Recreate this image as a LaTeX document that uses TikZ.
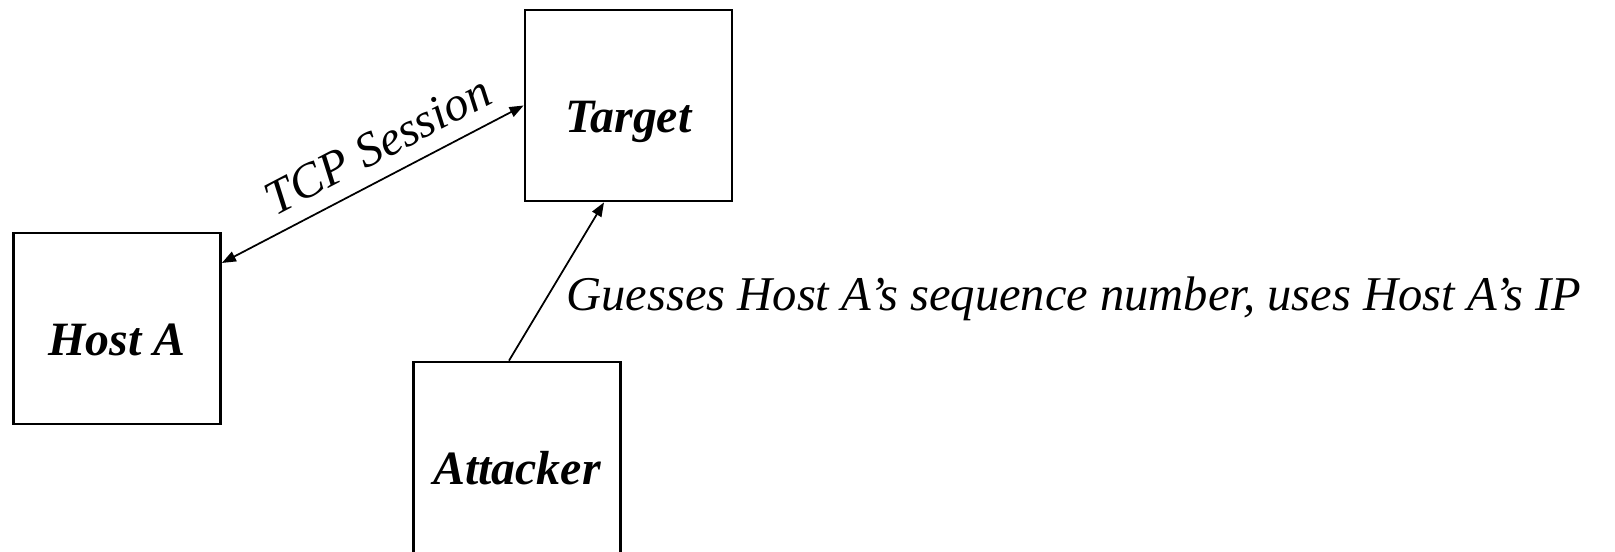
\documentclass[tikz,border=0pt]{standalone}
\usepackage{fontspec}
\setmainfont{Liberation Serif}
\usepackage{tikz}
\usetikzlibrary{arrows.meta}

\begin{document}
\begin{tikzpicture}[x=0.01cm, y=-0.01cm, >={Triangle[length=4pt, width=3pt]},
    box/.style={rectangle, draw, line width=0.75pt, minimum width=2.07cm, minimum height=1.91cm,
        text height=15.2pt, text depth=0pt, font=\fontsize{13.6}{16}\selectfont\bfseries\itshape},
    arrow/.style={line width=0.5pt},
    lbl/.style={font=\fontsize{13.8}{16}\selectfont\itshape}]
    \useasboundingbox (0,0) rectangle (1615,551);

    \node[box] (hosta) at (117,328.5) {Host A};
    \node[box] (target) at (628.5,105.5) {Target};
    \node[box] (attacker) at (517,457.5) {Attacker};

    \draw[arrow, <->] ([yshift=0.655cm]hosta.east) -- (target.west)
        node[lbl, pos=0.567, sloped, above=1pt] {TCP Session};
    \draw[arrow, ->] ([xshift=-0.08cm]attacker.north) -- ([xshift=-0.245cm]target.south)
        node[lbl, pos=0.39, right=0.08cm] {Guesses Host A’s sequence number, uses Host A’s IP};
\end{tikzpicture}
\end{document}
